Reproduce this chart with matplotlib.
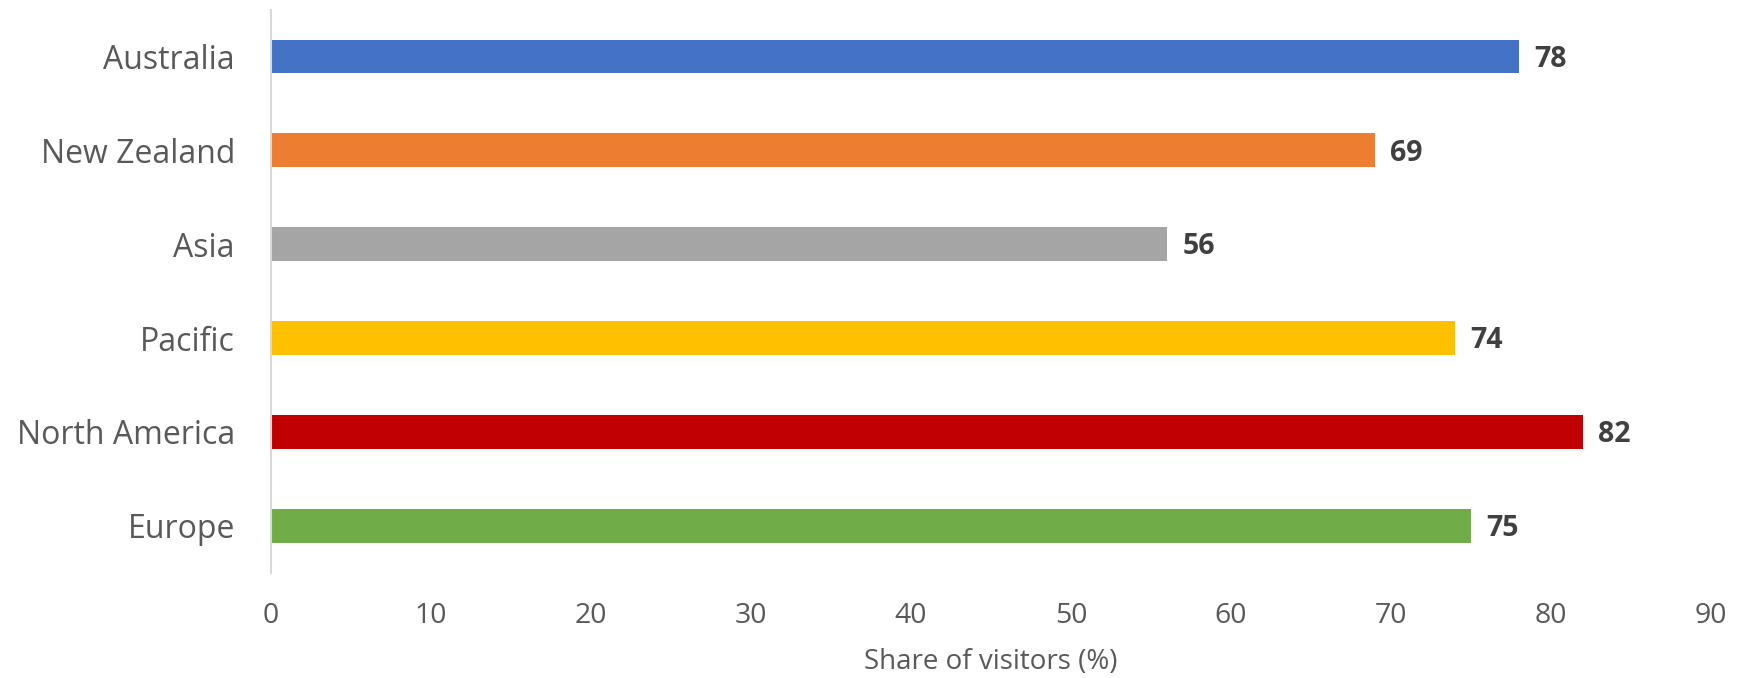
import matplotlib
matplotlib.use("Agg")
import matplotlib.pyplot as plt

# Share of visitors by region of origin
regions = ["Australia", "New Zealand", "Asia", "Pacific", "North America", "Europe"]
shares = [78, 69, 56, 74, 82, 75]
colors = ["#4472C4", "#ED7D31", "#A5A5A5", "#FFC000", "#C00000", "#70AD47"]
x_ticks = [0, 10, 20, 30, 40, 50, 60, 70, 80, 90]

plt.rcParams["font.family"] = ["Open Sans", "DejaVu Sans"]

W, H, DPI = 1742, 678, 100
fig = plt.figure(figsize=(W / DPI, H / DPI), dpi=DPI)
ax = fig.add_axes([271 / W, 1 - 572.7 / H, (1711 - 271) / W, (572.7 - 9.5) / H])

ypos = list(range(len(regions)))
ax.barh(ypos, shares, height=0.36, color=colors, zorder=2)
ax.set_ylim(len(regions) - 0.5, -0.5)
ax.set_xlim(0, 90)

ax.set_yticks(ypos)
ax.set_yticklabels(regions)
ax.set_xticks(x_ticks)
ax.set_xticklabels([str(t) for t in x_ticks])
ax.tick_params(axis="y", length=0, pad=26, labelsize=23, labelcolor="#595959")
ax.tick_params(axis="x", length=0, pad=21, labelsize=20.5, labelcolor="#595959")

for side in ("top", "right", "bottom"):
    ax.spines[side].set_visible(False)
ax.spines["left"].set_color("#D9D9D9")
ax.spines["left"].set_linewidth(1.5)

for y, v in zip(ypos, shares):
    ax.annotate(f"{v}", xy=(v, y), xytext=(11, -2), textcoords="offset points",
                ha="left", va="center", fontsize=20.5, fontweight="bold",
                color="#404040")

fig.text((271 + 1711) / 2 / W, 1 - 662 / H, "Share of visitors (%)",
         ha="center", va="center", fontsize=20, color="#595959")

fig.savefig("out.png", dpi=DPI)
